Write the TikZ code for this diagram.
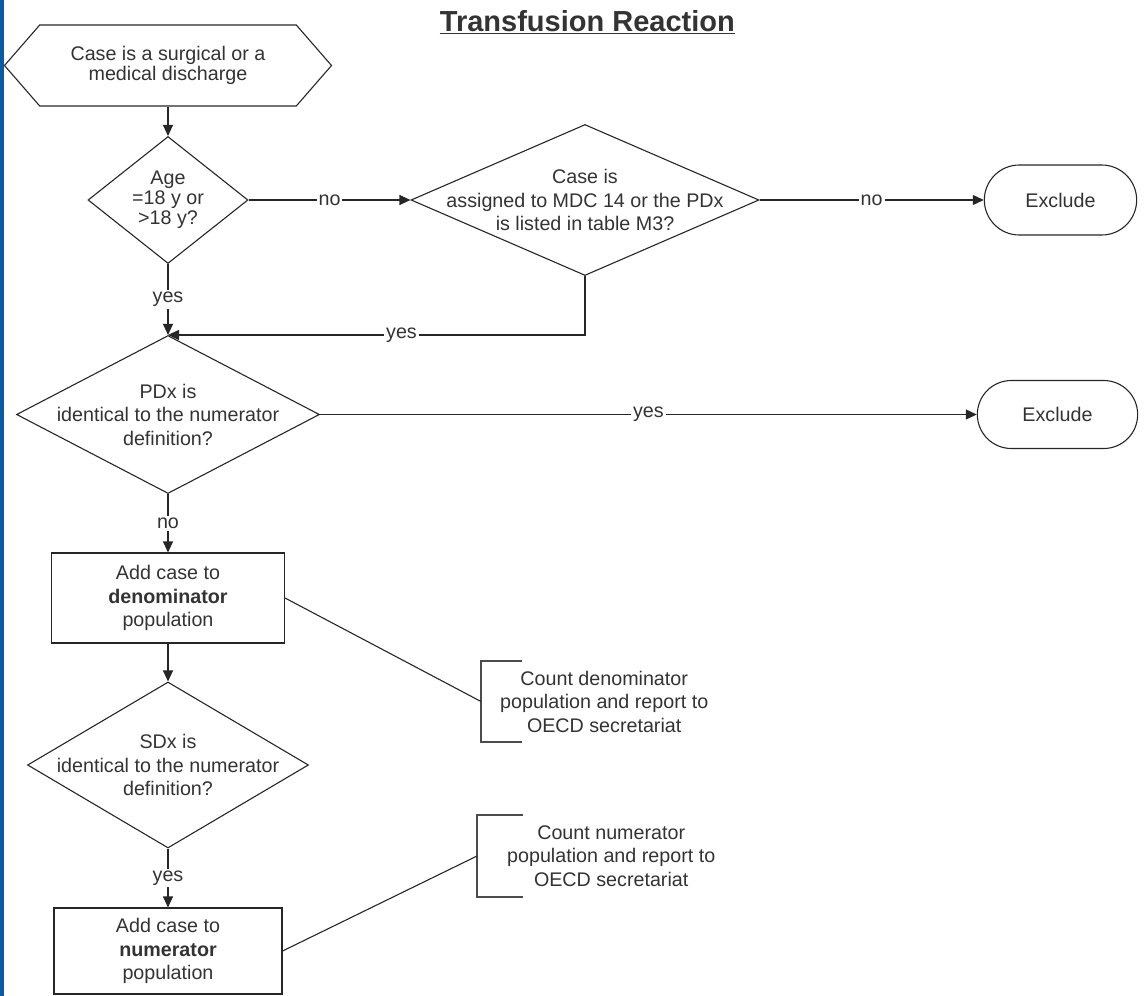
\documentclass[tikz,border=0pt]{standalone}
\usepackage{fontspec}
\setmainfont{Liberation Sans}
\usetikzlibrary{arrows.meta,shapes.geometric,shapes.symbols,shapes.misc}
\definecolor{barblue}{RGB}{11,90,166}
\definecolor{ink}{RGB}{51,51,51}
\begin{document}
\begin{tikzpicture}[x=1pt,y=-1pt,
    every node/.style={font=\fontsize{19.7}{23.5}\selectfont, text=ink, align=center},
    hexa/.style={draw=black!85, line width=1.1pt, signal, signal to=west and east,
      signal pointer angle=98, inner sep=0pt, font=\fontsize{19.7}{20}\selectfont},
    box/.style={draw=black!85, line width=1.1pt, rectangle},
    decision/.style={draw=black!85, line width=1.1pt, diamond, inner sep=-16pt},
    terminal/.style={draw=black!85, line width=1.1pt, rounded rectangle},
    note/.style={inner sep=0pt},
    lbl/.style={fill=white, inner sep=2pt},
    flow/.style={draw=black!85, line width=1.1pt, -{Triangle[length=11pt,width=10pt]}},
    link/.style={draw=black!85, line width=1.1pt},
    bracket/.style={draw=black!70, line width=1.6pt}]
  \useasboundingbox (0,0) rectangle (1144,996);
  \fill[barblue] (0,0) rectangle (4,996);

  \node[inner sep=0pt, anchor=base east, font=\bfseries\fontsize{29}{31}\selectfont] (title) at (735,31) {Transfusion Reaction};
  \draw[ink, line width=1.5pt] ([yshift=-2.5pt]title.base west) -- ([yshift=-2.5pt]title.base east);

  \node[hexa, minimum width=327pt, minimum height=81pt] (start) at (168,65.5) {Case is a surgical or a\\medical discharge};
  \node[decision, aspect=1.26, minimum width=160pt, minimum height=127pt, font=\fontsize{19.7}{20}\selectfont] (age) at (168,200) {Age\\=18 y or\\>18 y?};
  \node[decision, aspect=2.3, minimum width=348pt, minimum height=151pt] (mdc) at (585,200) {Case is\\assigned to MDC 14 or the PDx\\is listed in table M3?};
  \node[terminal, minimum width=159pt, minimum height=70pt] (exc1) at (1060.5,200) {Exclude};
  \node[decision, aspect=1.92, minimum width=303pt, minimum height=158pt] (pdx) at (168,414.5) {PDx is\\identical to the numerator\\definition?};
  \node[terminal, minimum width=167pt, minimum height=68pt] (exc2) at (1057.5,414.5) {Exclude};
  \node[box, minimum width=233pt, minimum height=90pt] (den) at (168,598) {Add case to\\\textbf{denominator}\\population};
  \node[decision, aspect=1.69, minimum width=281pt, minimum height=166pt] (sdx) at (168,765) {SDx is\\identical to the numerator\\definition?};
  \node[box, minimum width=228pt, minimum height=86pt] (num) at (168,951) {Add case to\\\textbf{numerator}\\population};
  \node[note, minimum width=246pt, minimum height=81pt, anchor=west] (cden) at (481,701.5) {Count denominator\\population and report to\\OECD secretariat};
  \node[note, minimum width=268pt, minimum height=82pt, anchor=west] (cnum) at (477,856) {Count numerator\\population and report to\\OECD secretariat};

  \draw[bracket] ([xshift=41pt]cden.north west) -| (cden.south west) -- ([xshift=41pt]cden.south west);
  \draw[bracket] ([xshift=46pt]cnum.north west) -| (cnum.south west) -- ([xshift=46pt]cnum.south west);

  \draw[flow] (start.south) -- (age.north);
  \draw[flow] (age.east) -- node[lbl] {no} (mdc.west);
  \draw[flow] (mdc.east) -- node[lbl] {no} (exc1.west);
  \draw[flow] (age.south) -- node[lbl] {yes} (pdx.north);
  \draw[flow] (mdc.south) |- node[lbl, pos=0.72] {yes} (pdx.north);
  \draw[flow] (pdx.east) -- node[lbl] {yes} (exc2.west);
  \draw[flow] (pdx.south) -- node[lbl] {no} (den.north);
  \draw[flow] (den.south) -- (sdx.north);
  \draw[flow] (sdx.south) -- node[lbl] {yes} (num.north);
  \draw[link] (den.east) -- (cden.west);
  \draw[link] (num.east) -- (cnum.west);
\end{tikzpicture}
\end{document}
